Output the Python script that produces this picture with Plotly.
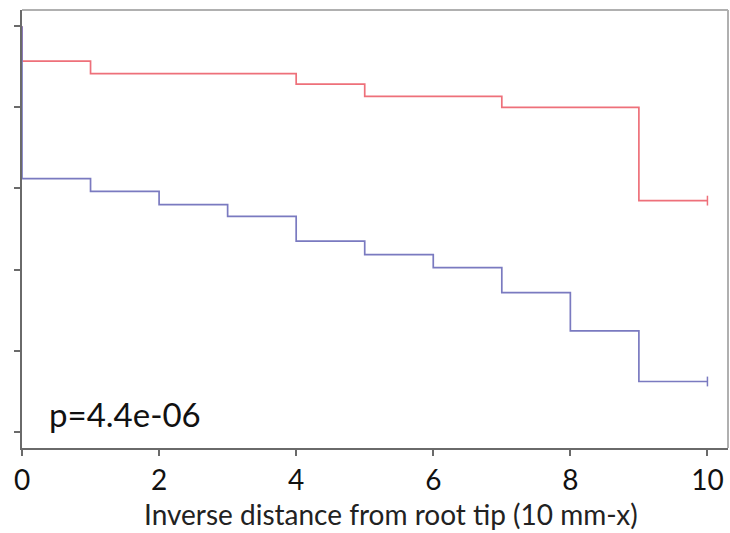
import plotly.graph_objects as go

# Step times and survival estimates
red_x = [0, 0, 1, 4, 5, 7, 9, 10]
red_y = [1.0, 0.914, 0.883, 0.857, 0.827, 0.800, 0.570, 0.570]
blue_x = [0, 0, 1, 2, 3, 4, 5, 6, 7, 8, 9, 10]
blue_y = [1.0, 0.624, 0.593, 0.560, 0.531, 0.470, 0.437, 0.405, 0.343, 0.249, 0.124, 0.124]
censor_x = [10]
red_censor_y = [0.570]
blue_censor_y = [0.124]
x_ticks = [0, 2, 4, 6, 8, 10]
y_ticks = [0, 0.2, 0.4, 0.6, 0.8, 1.0]
p_text = "p=4.4e-06"
x_title = "Inverse distance from root tip (10 mm-x)"

RED = "rgb(238,112,122)"
BLUE = "rgb(122,122,192)"
FONT = "Lato, Open Sans, sans-serif"

fig = go.Figure()
fig.add_trace(go.Scatter(x=red_x, y=red_y, mode="lines", line=dict(shape="hv", color=RED, width=1.7),
                         hoverinfo="skip", showlegend=False))
fig.add_trace(go.Scatter(x=blue_x, y=blue_y, mode="lines", line=dict(shape="hv", color=BLUE, width=1.7),
                         hoverinfo="skip", showlegend=False))
fig.add_trace(go.Scatter(x=censor_x, y=red_censor_y, mode="markers",
                         marker=dict(symbol="line-ns", size=7, line=dict(color=RED, width=1.5)),
                         hoverinfo="skip", showlegend=False))
fig.add_trace(go.Scatter(x=censor_x, y=blue_censor_y, mode="markers",
                         marker=dict(symbol="line-ns", size=7, line=dict(color=BLUE, width=1.5)),
                         hoverinfo="skip", showlegend=False))

# light grey top/right frame
fig.add_shape(type="line", xref="paper", yref="paper", x0=0, x1=1, y0=1, y1=1,
              line=dict(color="#b0b0b0", width=2))
fig.add_shape(type="line", xref="paper", yref="paper", x0=1, x1=1, y0=0, y1=1,
              line=dict(color="#b0b0b0", width=2))

fig.add_annotation(x=0.035, y=0.077, xref="paper", yref="paper", text=p_text, showarrow=False,
                   xanchor="left", yanchor="middle",
                   font=dict(family=FONT, size=33, color="#111"))

# x-axis title
fig.add_annotation(x=0.522, y=-0.150, xref="paper", yref="paper", text=x_title, showarrow=False,
                   xanchor="center", yanchor="middle",
                   font=dict(family=FONT, size=28, color="#222"))

fig.update_xaxes(range=[0, 10.3], tickvals=x_ticks, ticktext=[str(t) for t in x_ticks],
                 showline=True, linecolor="#6a6a6a", linewidth=2, ticks="outside", ticklen=6,
                 tickcolor="#6a6a6a", tickwidth=1.5, showgrid=False, zeroline=False,
                 tickfont=dict(family=FONT, size=28, color="#111"))
fig.update_yaxes(range=[-0.04, 1.04], tickvals=y_ticks, showticklabels=False,
                 showline=True, linecolor="#6a6a6a", linewidth=2, ticks="outside", ticklen=6,
                 tickcolor="#6a6a6a", tickwidth=1.5, showgrid=False, zeroline=False)

fig.update_layout(width=730, height=533, margin=dict(l=22, r=2, t=10, b=85),
                  plot_bgcolor="white", paper_bgcolor="white")

fig.write_html("out.html")
